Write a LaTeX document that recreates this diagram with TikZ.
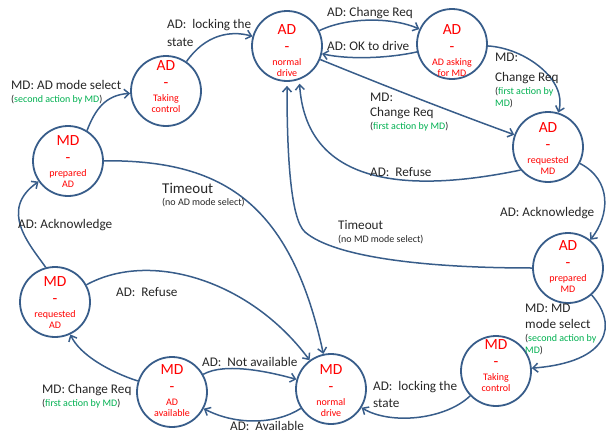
\documentclass[tikz,border=0pt]{standalone}
\usepackage{fontspec}
\setmainfont{Carlito}
\usetikzlibrary{arrows.meta}
\definecolor{ln}{RGB}{56,93,138}
\definecolor{rd}{RGB}{255,0,0}
\definecolor{gn}{RGB}{0,176,80}
\definecolor{tx}{RGB}{38,38,38}
\newcommand\gtxt[1]{\textcolor{gn}{#1}}
\newcommand\mkst[7]{%
 \node[st] (#1) at (#2,#3) {};
 \node[bigt] (#1b) at (#2,#3+#7-16) {#4};
 \node[bigt] (#1d) at (#2,#3+#7+1) {-};
 \node[smt] (#1l) at (#2,#3+#7+15) {#5};
 \node[smt] (#1m) at (#2,#3+#7+26.5) {#6};
}
\begin{document}
\begin{tikzpicture}[x=1pt,y=-1pt,
 st/.style={circle,draw=ln,line width=1.8pt,minimum size=70pt,inner sep=0pt},
 bigt/.style={text=rd,font=\fontsize{15.5}{16}\selectfont,anchor=base,inner sep=0pt},
 smt/.style={text=rd,font=\fontsize{10}{12}\selectfont,anchor=base,inner sep=0pt},
 lab/.style={text=tx,font=\fontsize{13.2}{15}\selectfont,anchor=west,inner sep=0pt},
 gl/.style={text=tx,font=\fontsize{10}{12}\selectfont,anchor=west,inner sep=0pt},
 edge/.style={draw=ln,line width=1.5pt,-{Straight Barb[length=5pt,width=9pt]}}]
\useasboundingbox (0,0) rectangle (606,434);

\mkst{ADnd}{287}{46}{AD}{normal}{drive}{4}
\mkst{ADask}{452}{44}{AD}{AD asking}{for MD}{6}
\mkst{ADreq}{548}{147}{AD}{requested}{MD}{1}
\mkst{ADprep}{568}{268}{AD}{prepared}{MD}{-2}
\mkst{MDtak}{496}{371}{MD}{Taking}{control}{-6}
\mkst{MDnd}{331}{389}{MD}{normal}{drive}{1}
\mkst{MDav}{172}{392}{MD}{AD}{available}{-2}
\mkst{MDreq}{55}{302}{MD}{requested}{AD}{0}
\mkst{MDprep}{68}{161}{MD}{prepared}{AD}{0}
\mkst{ADtak}{166}{91}{AD}{Taking}{control}{-5}

% connectors
\draw[edge] (MDprep.58) .. controls (95,110) and (105,95) .. (ADtak);
\draw[edge] (ADtak) .. controls (205,35) and (230,30) .. (ADnd);
\draw[edge] (ADnd) .. controls (350,16) and (395,18) .. (ADask);
\draw[edge] (ADask) .. controls (390,58) and (350,60) .. (ADnd);
\draw[edge] (ADask) .. controls (525,48) and (568,80) .. (ADreq);
\draw[edge] (ADnd) .. controls (400,92) and (460,115) .. (ADreq);
\draw[edge,shorten >=4pt] (ADreq.220) .. controls (400,195) and (306,182) .. (ADnd.290);
\draw[edge] (ADreq) .. controls (612,180) and (610,215) .. (ADprep);
\draw[edge,shorten >=4pt] (ADprep) .. controls (430,268) and (335,258) .. (305,232)
   .. controls (290,219) and (287,150) .. (ADnd.270);
\draw[edge] (ADprep) .. controls (618,325) and (610,362) .. (MDtak);
\draw[edge] (MDtak) .. controls (445,420) and (390,425) .. (MDnd);
\draw[edge] (MDnd) .. controls (275,425) and (235,425) .. (MDav);
\draw[edge] (MDav) .. controls (225,362) and (270,372) .. (MDnd);
\draw[edge] (MDav) .. controls (110,372) and (80,355) .. (MDreq);
\draw[edge] (MDreq.105) .. controls (30,245) and (-2,210) .. (MDprep);
\draw[edge] (MDreq) .. controls (150,250) and (250,280) .. (MDnd);
\draw[edge] (MDprep) .. controls (220,160) and (290,200) .. (MDnd);

% labels
\node[lab] (l1a) at (11,85) {MD: AD mode select};
\node[gl] (l1b) at (11,99.5) {(\gtxt{second action by MD})};
\node[lab] (l2a) at (167,25) {AD:~~locking the};
\node[lab] (l2b) at (167,42) {state};
\node[lab] (l3) at (327,13) {AD: Change Req};
\node[lab] (l4) at (327,46) {AD: OK to drive};
\node[lab] (l5a) at (495,57) {MD:};
\node[lab] (l5b) at (495,78) {Change Req};
\node[gl] (l5c) at (495,91.5) {(\gtxt{first action by}};
\node[gl] (l5d) at (495,104) {\gtxt{MD})};
\node[lab] (l6a) at (370,97) {MD:};
\node[lab] (l6b) at (370,113) {Change Req};
\node[gl] (l6c) at (370,127) {(\gtxt{first action by MD})};
\node[lab] (l7) at (370,172) {AD:~~Refuse};
\node[lab] (l8) at (500,213) {AD: Acknowledge};
\node[lab] (l9a) at (338,225) {Timeout};
\node[gl] (l9b) at (338,240) {(no MD mode select)};
\node[lab] (l10a) at (525,308) {MD: MD};
\node[lab] (l10b) at (525,324) {mode select};
\node[gl] (l10c) at (525,338.5) {(\gtxt{second action by}};
\node[gl] (l10d) at (525,351) {\gtxt{MD})};
\node[lab] (l11a) at (373,387) {AD:~~locking the};
\node[lab] (l11b) at (373,403) {state};
\node[lab] (l12) at (230,425.5) {AD:~~Available};
\node[lab] (l13) at (202,362) {AD:~~Not available};
\node[lab] (l14a) at (42,390) {MD: Change Req};
\node[gl] (l14b) at (42,404) {(\gtxt{first action by MD})};
\node[lab] (l15) at (18,225) {AD: Acknowledge};
\node[lab] (l16) at (116,292) {AD:~~Refuse};
\node[lab,font=\fontsize{15}{17}\selectfont] (l17a) at (162,188) {Timeout};
\node[gl] (l17b) at (162,203) {(no AD mode select)};
\end{tikzpicture}
\end{document}
